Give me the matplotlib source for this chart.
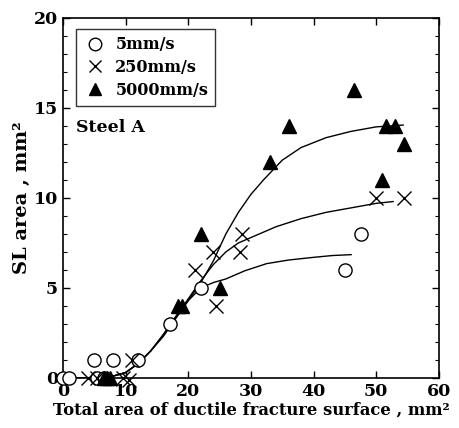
import matplotlib
matplotlib.use('Agg')
from matplotlib import pyplot as plt
from matplotlib.ticker import MultipleLocator

# measured points
circ_x = [0, 1, 5.5, 6.5, 5, 8, 12, 17, 22, 45, 47.5]
circ_y = [0, 0, 0, 0, 1, 1, 1, 3, 5, 6, 8]
cross_x = [4, 5.5, 9.5, 10.5, 11, 21, 24, 28.3, 28.5, 24.5, 50, 54.5]
cross_y = [0, 0, 0, -0.1, 1, 6, 7, 7, 8, 4, 10, 10]
tri_x = [6.5, 7, 7.5, 18.3, 19, 25, 22, 33, 36, 46.5, 51.5, 53, 51, 54.5]
tri_y = [0, 0, 0, 4, 4, 5, 8, 12, 14, 16, 14, 14, 11, 13]

# fitted curves
fit5_x = [0, 4, 8, 10, 12, 14, 16, 18, 20, 22, 24, 26, 29, 32.5, 36, 40, 43, 46]
fit5_y = [0, 0, 0.1, 0.3, 0.8, 1.5, 2.4, 3.4, 4.3, 5.0, 5.3, 5.5, 5.95, 6.35, 6.55, 6.7, 6.8, 6.85]
fit250_x = [0, 4, 8, 10, 12, 14, 16, 18, 20, 22, 24, 26, 28, 31, 34, 38, 42, 46, 50, 52.7]
fit250_y = [0, 0, 0.1, 0.3, 0.8, 1.5, 2.4, 3.4, 4.4, 5.4, 6.3, 7.0, 7.5, 7.95, 8.4, 8.85, 9.2, 9.45, 9.7, 9.8]
fit5000_x = [0, 4, 8, 10, 12, 14, 16, 18, 20, 22, 24, 26, 28, 30, 32, 35, 38, 42, 46, 50, 54.3]
fit5000_y = [0, 0, 0.1, 0.3, 0.8, 1.5, 2.3, 3.3, 4.3, 5.3, 6.5, 8.0, 9.2, 10.2, 11.0, 12.1, 12.8, 13.35, 13.7, 13.95, 14.05]

plt.rcParams['font.family'] = ['DejaVu Serif']
plt.rcParams['font.weight'] = 'bold'

fig = plt.figure(figsize=(4.6, 4.28), dpi=100)
ax = fig.add_axes([0.137, 0.117, 0.817, 0.841])

for fx, fy in [(fit5_x, fit5_y), (fit250_x, fit250_y), (fit5000_x, fit5000_y)]:
    ax.plot(fx, fy, color='black', linewidth=1.0, zorder=2)

ax.plot(circ_x, circ_y, 'o', mfc='white', mec='black', mew=1.0, markersize=9.5,
        label='5mm/s', zorder=3, clip_on=False)
ax.plot(cross_x, cross_y, 'x', color='black', mew=1.0, markersize=9.5,
        label='250mm/s', zorder=3, clip_on=False)
ax.plot(tri_x, tri_y, '^', color='black', markersize=9.5,
        label='5000mm/s', zorder=3, clip_on=False)

ax.set_xlim(0, 60)
ax.set_ylim(0, 20)
ax.xaxis.set_major_locator(MultipleLocator(10))
ax.yaxis.set_major_locator(MultipleLocator(5))
ax.yaxis.set_minor_locator(MultipleLocator(1))
ax.tick_params(which='both', direction='in', top=True, right=True, labelsize=12.5)
ax.tick_params(which='major', length=5, width=1)
ax.tick_params(which='minor', length=3, width=0.8)
for s in ax.spines.values():
    s.set_linewidth(1.2)

ax.set_xlabel('Total area of ductile fracture surface , mm\u00b2', fontsize=11.8,
              fontweight='bold', labelpad=1)
ax.set_ylabel('SL area , mm\u00b2', fontsize=14, fontweight='bold', labelpad=2)

ax.text(2.1, 13.9, 'Steel A', fontsize=12.5, fontweight='bold', va='center')

leg = ax.legend(loc='upper left', bbox_to_anchor=(0.035, 0.969), fontsize=11.5,
                frameon=True, fancybox=False, edgecolor='black',
                handletextpad=0.6, borderpad=0.45, labelspacing=0.35,
                handlelength=1.4, borderaxespad=0, markerscale=0.95)
leg.get_frame().set_linewidth(1.0)

fig.savefig('out.png', dpi=100)
